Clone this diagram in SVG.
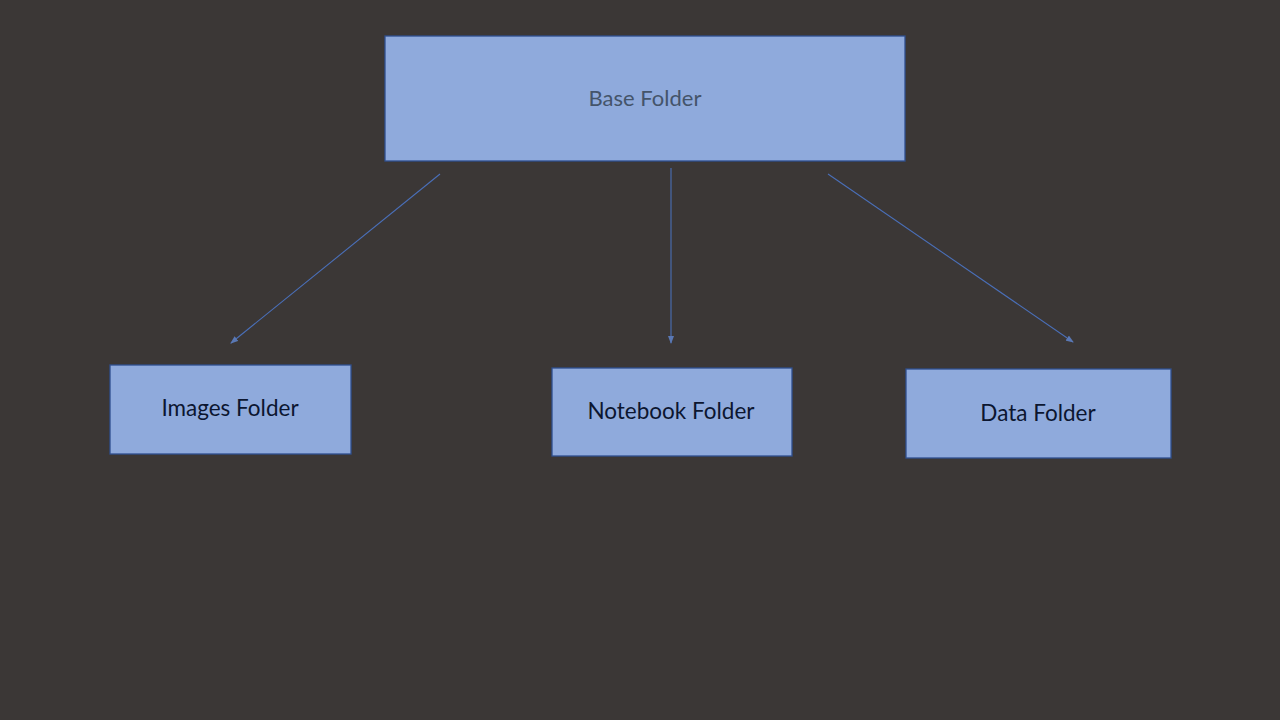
<svg xmlns="http://www.w3.org/2000/svg" width="1280" height="720" viewBox="0 0 1280 720">
<style>
.box{fill:#8faadc;stroke:#2f4f8f;stroke-width:1.3}
.lbl{font-family:Lato,"Open Sans",sans-serif;font-size:22.5px;fill:#0c1630;text-anchor:middle;dominant-baseline:central}
.base{fill:#44546a;font-size:22px}
.con{stroke:#4a6fb8;stroke-width:1.1;fill:none;marker-end:url(#ah)}
</style>
<defs>
<marker id="ah" markerWidth="8" markerHeight="6" refX="7" refY="3" orient="auto" markerUnits="userSpaceOnUse">
<path d="M0,0 L8,3 L0,6 Z" fill="#5a78b4"/>
</marker>
</defs>
<rect width="1280" height="720" fill="#3b3736"/>
<g id="connectors">
<line class="con" x1="440" y1="174" x2="231" y2="343"/>
<line class="con" x1="671" y1="168" x2="671" y2="343"/>
<line class="con" x1="828" y1="174" x2="1073" y2="342"/>
</g>
<g id="base-folder">
<rect class="box" x="385" y="36" width="520" height="125"/>
<text class="lbl base" x="645" y="97">Base Folder</text>
</g>
<g id="images-folder">
<rect class="box" x="110" y="365" width="241" height="89"/>
<text class="lbl" x="230" y="407">Images Folder</text>
</g>
<g id="notebook-folder">
<rect class="box" x="552" y="368" width="240" height="88"/>
<text class="lbl" x="671" y="410">Notebook Folder</text>
</g>
<g id="data-folder">
<rect class="box" x="906" y="369" width="265" height="89"/>
<text class="lbl" x="1038" y="412">Data Folder</text>
</g>
</svg>
